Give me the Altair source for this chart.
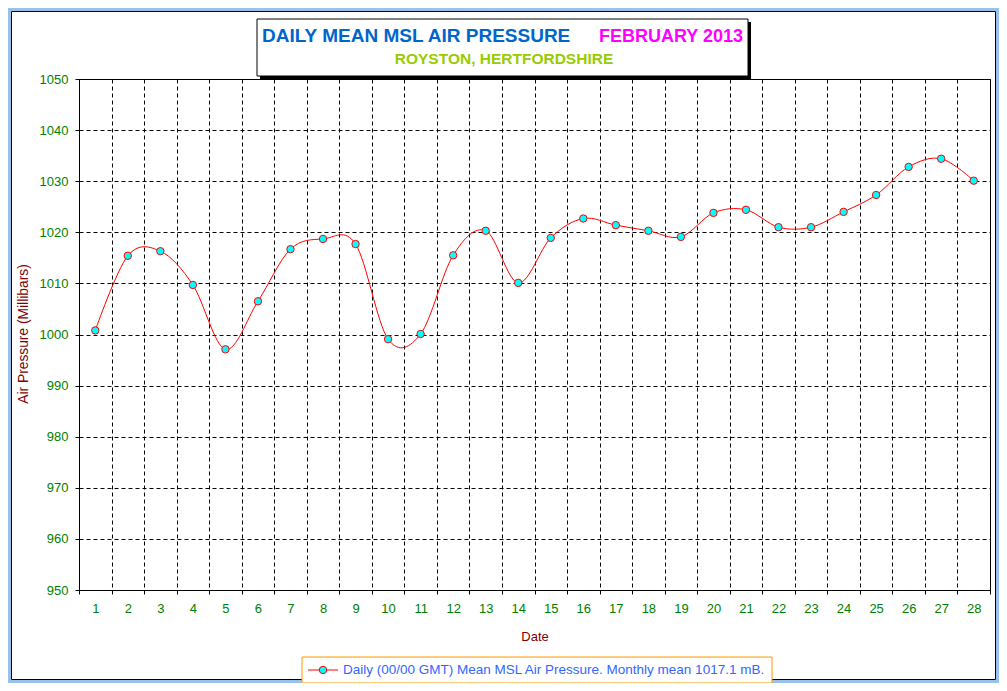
import altair as alt
import pandas as pd

days = list(range(1, 29))
pressure = [1000.8, 1015.4, 1016.3, 1009.7, 997.1, 1006.5, 1016.7, 1018.7, 1017.7, 999.1,
            1000.1, 1015.5, 1020.3, 1010.1, 1018.9, 1022.7, 1021.4, 1020.3, 1019.1, 1023.8,
            1024.4, 1021.0, 1021.0, 1024.0, 1027.3, 1032.8, 1034.4, 1030.1]
y_ticks = list(range(950, 1051, 10))

title_main = "DAILY MEAN MSL AIR PRESSURE"
title_month = "FEBRUARY 2013"
subtitle = "ROYSTON, HERTFORDSHIRE"
legend_label = "Daily (00/00 GMT) Mean MSL Air Pressure. Monthly mean 1017.1 mB."

FONT = "Liberation Sans"
df = pd.DataFrame({"day": days, "p": pressure})
one = pd.DataFrame({"a": [0]})

W, H = 911, 511
PL, PT, PR, PB = 71, 71, 9, 93

x_enc = alt.X("day:O", title="Date",
              scale=alt.Scale(type="band", paddingInner=0, paddingOuter=0),
              axis=alt.Axis(labelAngle=0, tickBand="extent", grid=True, gridColor="black",
                            gridDash=[4, 3], gridWidth=1, domainColor="black", tickColor="black",
                            tickSize=4, labelColor="#008000", labelFont=FONT, labelFontSize=13,
                            labelPadding=8, titleColor="#800000", titleFont=FONT,
                            titleFontSize=13, titleFontWeight="normal", titleY=46,
                            titleBaseline="middle"))
y_enc = alt.Y("p:Q", title="Air Pressure (Millibars)",
              scale=alt.Scale(domain=[950, 1050], nice=False, zero=False),
              axis=alt.Axis(values=y_ticks, format="d", grid=True, gridColor="black",
                            gridDash=[4, 3], gridWidth=1, domainColor="black",
                            tickColor="black", tickSize=4,
                            labelColor="#008000", labelFont=FONT, labelFontSize=13,
                            labelPadding=7, titleColor="#800000", titleFont=FONT,
                            titleFontSize=13.8, titleFontWeight="normal", titleX=-56,
                            titleY=H / 2 - 1, titleAngle=-90, titleAlign="center",
                            titleBaseline="middle"))

line = alt.Chart(df).mark_line(color="red", strokeWidth=1, interpolate="cardinal").encode(x=x_enc, y=y_enc)
pts = alt.Chart(df).mark_point(shape="circle", filled=True, fill="#00FFFF", stroke="red",
                               strokeWidth=1, size=55, opacity=1).encode(x=x_enc, y=y_enc)

# outer frame
blue_frame = alt.Chart(one).mark_rect(fillOpacity=0, stroke="#99C2EB", strokeWidth=6).encode(
    x=alt.value(-PL), x2=alt.value(W + PR), y=alt.value(-PT), y2=alt.value(H + PB))
black_frame = alt.Chart(one).mark_rect(fillOpacity=0, stroke="black", strokeWidth=1).encode(
    x=alt.value(-PL + 3.5), x2=alt.value(W + PR - 3.5), y=alt.value(-PT + 3.5), y2=alt.value(H + PB - 3.5))

# title box
shadow = alt.Chart(one).mark_rect(fill="black").encode(
    x=alt.value(181), x2=alt.value(672), y=alt.value(-57), y2=alt.value(0))
tbox = alt.Chart(one).mark_rect(fill="white", stroke="black", strokeWidth=1).encode(
    x=alt.value(178), x2=alt.value(669), y=alt.value(-60), y2=alt.value(-3))
t1 = alt.Chart(one).mark_text(text=title_main, font=FONT, fontSize=19, fontWeight="bold",
                              color="#0066CC", align="left", baseline="alphabetic").encode(
    x=alt.value(183), y=alt.value(-37))
t2 = alt.Chart(one).mark_text(text=title_month, font=FONT, fontSize=18, fontWeight="bold",
                              color="#FF00FF", align="left", baseline="alphabetic").encode(
    x=alt.value(520), y=alt.value(-37))
t3 = alt.Chart(one).mark_text(text=subtitle, font=FONT, fontSize=15.5, fontWeight="bold",
                              color="#99CC00", align="center", baseline="alphabetic").encode(
    x=alt.value(425), y=alt.value(-15.5))

# legend
lbox = alt.Chart(one).mark_rect(fill="white", stroke="#FF9900", strokeWidth=1).encode(
    x=alt.value(223), x2=alt.value(693), y=alt.value(578), y2=alt.value(604))
lline = alt.Chart(one).mark_rule(color="red", strokeWidth=1).encode(
    x=alt.value(229), x2=alt.value(259), y=alt.value(591))
lpt = alt.Chart(one).mark_point(shape="circle", filled=True, fill="#00FFFF", stroke="red",
                                strokeWidth=1, size=55, opacity=1).encode(
    x=alt.value(244), y=alt.value(591))
ltext = alt.Chart(one).mark_text(text=legend_label, font=FONT, fontSize=13.5, color="#3366FF",
                                 align="left", baseline="middle").encode(
    x=alt.value(264), y=alt.value(591))

chart = alt.layer(blue_frame, black_frame, shadow, tbox, t1, t2, t3, lbox, lline, lpt, ltext,
                  line, pts).properties(
    width=W, height=H,
    autosize=alt.AutoSizeParams(type="none"),
    padding={"left": PL, "top": PT, "right": PR, "bottom": PB},
    background="white",
).configure_view(stroke="black", strokeWidth=1, fill="white")

chart.save("out.html", embed_options={"renderer": "svg", "actions": False})
